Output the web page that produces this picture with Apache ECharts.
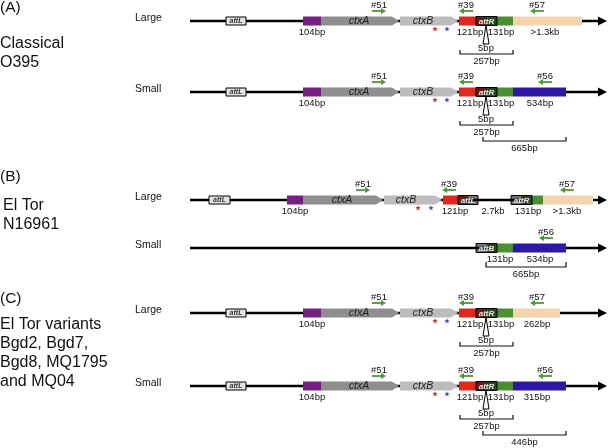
<!DOCTYPE html>
<html><head><meta charset="utf-8">
<script src="https://cdn.jsdelivr.net/npm/echarts@6/dist/echarts.min.js"></script>
<style>html,body{margin:0;padding:0;background:#fff}#c{width:608px;height:448px}</style>
</head><body><div id="c"></div>
<script>
// ---------------- DATA (diagram units along the locus; rows are tracks) ----------------
const panelLetters = ['(A)', '(B)', '(C)'];
const panelTitles = [['Classical', 'O395'], ['El Tor', 'N16961'], ['El Tor variants', 'Bgd2, Bgd7,', 'Bgd8, MQ1795', 'and MQ04']];
const rowNames = ['Large', 'Small', 'Large', 'Small', 'Large', 'Small'];
const rowTrack = [21, 92, 200, 248, 313, 386];
// [row, start, end]
const backbone = [[0,190,607],[1,190,607],[2,190,607],[3,190,607],[4,190,607],[5,190,607]];
// [row, start, end, kind]  P=104bp, A=ctxA, B=ctxB, R=121bp, G=131bp, T=>1.3kb/262bp, U=534bp/315bp
const blocks = [
  [0,303,321,'P'],[0,321,399,'A'],[0,400,458,'B'],[0,459,486,'R'],[0,486,513,'G'],[0,513,582,'T'],
  [1,303,321,'P'],[1,321,399,'A'],[1,400,458,'B'],[1,459,486,'R'],[1,486,513,'G'],[1,513,566,'U'],
  [2,287,303,'P'],[2,303,383,'A'],[2,384,442,'B'],[2,443,468,'R'],[2,521,543,'G'],[2,543,593,'T'],
  [3,487,513,'G'],[3,513,566,'U'],
  [4,303,321,'P'],[4,321,399,'A'],[4,400,458,'B'],[4,459,486,'R'],[4,486,513,'G'],[4,513,560,'T'],
  [5,303,321,'P'],[5,321,399,'A'],[5,400,458,'B'],[5,459,486,'R'],[5,486,513,'G'],[5,513,566,'U']
];
// [row, center, name]
const geneNames = [[0,359,'ctxA'],[0,423,'ctxB'],[1,359,'ctxA'],[1,423,'ctxB'],[2,342,'ctxA'],[2,406,'ctxB'],
  [4,359,'ctxA'],[4,423,'ctxB'],[5,359,'ctxA'],[5,423,'ctxB']];
// [row, start, end, name]  plain attL sites on the backbone
const attPlain = [[0,226,246,'attL'],[1,226,246,'attL'],[2,209,230,'attL'],[4,226,246,'attL'],[5,226,246,'attL']];
// [row, start, end, name]  att sites on coloured regions
const attDark = [[0,476,497,'attR'],[1,476,497,'attR'],[2,458,478,'attL'],[2,511,532,'attR'],[3,476,497,'attB'],
  [4,476,497,'attR'],[5,476,497,'attR']];
// [row, center, text]
const sizeLabels = [
  [0,312,'104bp'],[0,470,'121bp'],[0,501,'131bp'],[0,545,'>1.3kb'],
  [1,312,'104bp'],[1,470,'121bp'],[1,501,'131bp'],[1,540,'534bp'],
  [2,295,'104bp'],[2,455,'121bp'],[2,493,'2.7kb'],[2,528,'131bp'],[2,567,'>1.3kb'],
  [3,500,'131bp'],[3,540,'534bp'],
  [4,312,'104bp'],[4,470,'121bp'],[4,501,'131bp'],[4,537,'262bp'],
  [5,312,'104bp'],[5,470,'121bp'],[5,501,'131bp'],[5,537,'315bp']
];
// [row, center, name, direction]
const primers = [
  [0,379,'#51',1],[0,466,'#39',-1],[0,537,'#57',-1],
  [1,379,'#51',1],[1,466,'#39',-1],[1,545,'#56',-1],
  [2,363,'#51',1],[2,449,'#39',-1],[2,567,'#57',-1],
  [3,546,'#56',-1],
  [4,379,'#51',1],[4,466,'#39',-1],[4,537,'#57',-1],
  [5,379,'#51',1],[5,466,'#39',-1],[5,545,'#56',-1]
];
// [row, position, kind]  r = red star, b = blue star
const stars = [[0,435,'r'],[0,447,'b'],[1,435,'r'],[1,447,'b'],[2,418,'r'],[2,431,'b'],
  [4,435,'r'],[4,447,'b'],[5,435,'r'],[5,447,'b']];
// [row, position, text]  5bp insertion marks
const insertions = [[0,486,'5bp'],[1,486,'5bp'],[4,486,'5bp'],[5,486,'5bp']];
// [row, start, end, tier, text]
const brackets = [[0,460,513,1,'257bp'],[1,460,513,1,'257bp'],[1,483,566,2,'665bp'],[3,486,566,0,'665bp'],
  [4,460,513,1,'257bp'],[5,460,513,1,'257bp'],[5,483,566,2,'446bp']];

// ---------------- STYLE ----------------
const FONT = 'Liberation Sans, Arial, sans-serif';
const colors = {P:'#751f80', A:'#8e8e8e', B:'#bcbcbc', R:'#e2271c', G:'#4b9030', T:'#f4d4ad', U:'#2e17a3'};
const starColors = {r:'#d8262a', b:'#5540e0'};
const primerColor = '#4b9a35';
const H = 4.5;
const tierTop = [14, 29, 45], tierBot = [19, 33, 49];

function pos(x, row, api) { return api.coord([x, rowTrack[row]]); }
function pts(src) { return src.map(d => [d[1], rowTrack[d[0]]]); }
function series(src, render) {
  return {type:'custom', coordinateSystem:'cartesian2d', data: pts(src), clip:false, silent:true,
    renderItem: (params, api) => render(src[params.dataIndex], api)};
}
function starPoints(cx, cy, R, r) {
  const p = [];
  for (let i = 0; i < 10; i++) {
    const a = -Math.PI/2 + i*Math.PI/5, rr = i%2 ? r : R;
    p.push([cx + rr*Math.cos(a), cy + rr*Math.sin(a)]);
  }
  return p;
}

const seriesList = [
  series(backbone, (d, api) => {
    const a = pos(d[1], d[0], api), b = pos(d[2], d[0], api);
    return {type:'group', children:[
      {type:'line', shape:{x1:a[0], y1:a[1], x2:b[0]-6, y2:b[1]}, style:{stroke:'#000', lineWidth:2.4}},
      {type:'polygon', shape:{points:[[b[0]-9,b[1]-4.5],[b[0],b[1]],[b[0]-9,b[1]+4.5]]}, style:{fill:'#000'}}
    ]};
  }),
  series(attPlain, (d, api) => {
    const a = pos(d[1], d[0], api), b = pos(d[2], d[0], api);
    return {type:'group', children:[
      {type:'rect', shape:{x:a[0], y:a[1]-4, width:b[0]-a[0], height:8}, style:{fill:'#e4e4e4', stroke:'#000', lineWidth:1}},
      {type:'text', style:{text:d[3], x:(a[0]+b[0])/2, y:a[1]+0.5, align:'center', verticalAlign:'middle',
        font:'italic bold 7px ' + FONT, fill:'#333'}}
    ]};
  }),
  series(blocks, (d, api) => {
    const a = pos(d[1], d[0], api), b = pos(d[2], d[0], api), y = a[1];
    if (d[3] === 'A' || d[3] === 'B') {
      return {type:'polygon', shape:{points:[[a[0],y-H],[b[0]-7,y-H],[b[0],y],[b[0]-7,y+H],[a[0],y+H]]}, style:{fill:colors[d[3]]}};
    }
    return {type:'rect', shape:{x:a[0], y:y-H, width:b[0]-a[0], height:2*H}, style:{fill:colors[d[3]]}};
  }),
  series(attDark, (d, api) => {
    const a = pos(d[1], d[0], api), b = pos(d[2], d[0], api);
    return {type:'group', children:[
      {type:'rect', shape:{x:a[0], y:a[1]-H, width:b[0]-a[0], height:2*H}, style:{fill:'rgba(20,20,20,0.6)', stroke:'#000', lineWidth:1}},
      {type:'text', style:{text:d[3], x:(a[0]+b[0])/2, y:a[1]+0.5, align:'center', verticalAlign:'middle',
        font:'italic bold 8px ' + FONT, fill:'#e8e8e8'}}
    ]};
  }),
  series(geneNames, (d, api) => {
    const a = pos(d[1], d[0], api);
    return {type:'text', style:{text:d[2], x:a[0], y:a[1]+0.5, align:'center', verticalAlign:'middle',
      font:'italic 10.5px ' + FONT, fill:'#222'}};
  }),
  series(sizeLabels, (d, api) => {
    const a = pos(d[1], d[0], api);
    return {type:'text', style:{text:d[2], x:a[0], y:a[1]+11, align:'center', verticalAlign:'middle',
      font:'9.5px ' + FONT, fill:'#111'}};
  }),
  series(primers, (d, api) => {
    const a = pos(d[1], d[0], api), y = a[1]-10, dir = d[3];
    const tip = a[0] + dir*7, tail = a[0] - dir*7;
    return {type:'group', children:[
      {type:'text', style:{text:d[2], x:a[0], y:a[1]-16, align:'center', verticalAlign:'middle', font:'9.5px ' + FONT, fill:'#111'}},
      {type:'line', shape:{x1:tail, y1:y, x2:tip - dir*3, y2:y}, style:{stroke:primerColor, lineWidth:1.8}},
      {type:'polygon', shape:{points:[[tip,y],[tip-dir*5,y-3],[tip-dir*5,y+3]]}, style:{fill:primerColor}}
    ]};
  }),
  series(stars, (d, api) => {
    const a = pos(d[1], d[0], api);
    return {type:'polygon', shape:{points:starPoints(a[0], a[1]+8, 2.8, 1.2)}, style:{fill:starColors[d[2]]}};
  }),
  series(insertions, (d, api) => {
    const a = pos(d[1], d[0], api);
    return {type:'group', children:[
      {type:'polygon', shape:{points:[[a[0],a[1]+4],[a[0]-3,a[1]+23],[a[0]+3,a[1]+23]]}, style:{fill:'#fff', stroke:'#000', lineWidth:1}},
      {type:'text', style:{text:d[2], x:a[0], y:a[1]+27, align:'center', verticalAlign:'middle', font:'9.5px ' + FONT, fill:'#111'}}
    ]};
  }),
  series(brackets, (d, api) => {
    const a = pos(d[1], d[0], api), b = pos(d[2], d[0], api), y = a[1];
    const t = y + tierTop[d[3]], bt = y + tierBot[d[3]];
    return {type:'group', children:[
      {type:'polyline', shape:{points:[[a[0],t],[a[0],bt],[b[0],bt],[b[0],t]]}, style:{stroke:'#111', lineWidth:1.2, fill:null}},
      {type:'text', style:{text:d[4], x:(a[0]+b[0])/2, y:bt+7.5, align:'center', verticalAlign:'middle', font:'9.5px ' + FONT, fill:'#111'}}
    ]};
  }),
  series(rowNames.map((n, i) => [i, 135, n]), (d, api) => {
    const a = pos(d[1], d[0], api);
    return {type:'text', style:{text:d[2], x:a[0], y:a[1]-3, align:'left', verticalAlign:'middle', font:'10.5px ' + FONT, fill:'#111'}};
  })
];

// Panel headings (left side text)
const headY = [8, 177, 299];
const titleX = [0, 3, 0];
const titleY0 = [45, 207, 326];
const titleStep = [18.5, 18.5, 18.7];
const graphics = [];
panelLetters.forEach((t, i) => {
  graphics.push({type:'text', left:0, top:headY[i]-8, style:{text:t, font:'15.5px ' + FONT, fill:'#111'}});
  panelTitles[i].forEach((line, j) => {
    graphics.push({type:'text', left:titleX[i], top:titleY0[i] + j*titleStep[i] - 9, style:{text:line, font:'16px ' + FONT, fill:'#111'}});
  });
});

const chart = echarts.init(document.getElementById('c'), null, {renderer:'canvas'});
chart.setOption({
  animation:false,
  backgroundColor:'#fff',
  grid:{left:0, right:0, top:0, bottom:0},
  xAxis:{type:'value', min:0, max:608, show:false},
  yAxis:{type:'value', min:0, max:448, inverse:true, show:false},
  graphic:graphics,
  series:seriesList
});
</script></body></html>
